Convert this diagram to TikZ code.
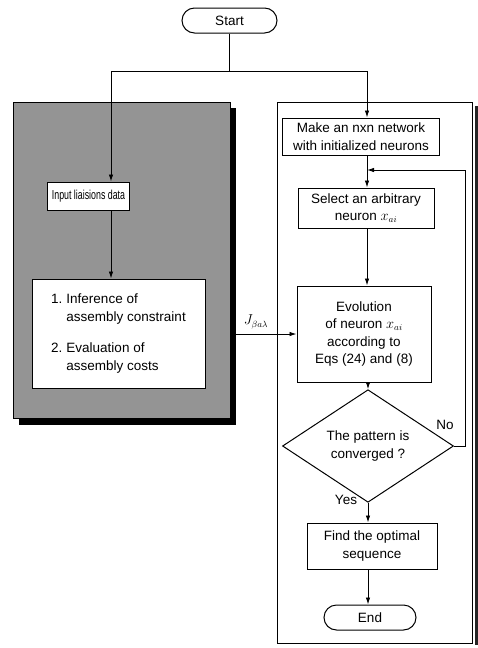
\documentclass[tikz,border=0pt]{standalone}
\usepackage{fontspec}
\setmainfont{Liberation Sans}
\usetikzlibrary{shapes.geometric,shapes.misc,arrows.meta}
\begin{document}
\begin{tikzpicture}[x=1pt,y=-1pt,
  every node/.style={font=\fontsize{13.5}{17.5}\selectfont},
  stepbox/.style={draw,line width=1pt,fill=white,inner sep=0pt,align=center},
  term/.style={rounded rectangle,draw,line width=1pt,fill=white,inner sep=0pt},
  decision/.style={diamond,draw,line width=1pt,fill=white,inner sep=0pt,align=center},
  panel/.style={draw,line width=1pt,inner sep=0pt},
  arr/.style={line width=0.9pt,-{Latex[length=7pt,width=4.5pt]}},
  ln/.style={line width=0.9pt}]
\useasboundingbox[fill=white] (0,0) rectangle (478,648);

% left panel: shaded block with a drop shadow
\fill[black] (19,108) rectangle (236,425);
\node[panel,fill=black!42,minimum width=217pt,minimum height=316pt] (lp) at (121.5,260) {};
% right panel with its dark edge
\fill[black!85] (474.5,106) rectangle (478,645);
\node[panel,fill=white,minimum width=195pt,minimum height=541pt] (rp) at (374.5,372.5) {};

% terminals and steps
\node[term,minimum width=95pt,minimum height=25pt] (start) at (229.5,20.5) {Start};
\node[stepbox,minimum width=82pt,minimum height=28pt] (input) at (88.5,196)
  {\fontsize{13}{15}\selectfont\scalebox{0.68}[1]{Input liaisions data}};
\node[stepbox,minimum width=173pt,minimum height=109pt] (infer) at (118.5,333.5)
  {\begin{tabular}{@{}l@{\hspace{4pt}}l@{}}1.&Inference of\\&assembly constraint\\[14pt]2.&Evaluation of\\&assembly costs\end{tabular}};

\node[stepbox,minimum width=157pt,minimum height=37pt] (make) at (361,136.5) {Make an nxn network\\with initialized neurons};
\node[stepbox,minimum width=136pt,minimum height=40pt] (select) at (366,208) {Select an arbitrary\\neuron $x_{ai}$};
\node[stepbox,minimum width=134pt,minimum height=96pt] (evol) at (364,334) {Evolution\\of neuron $x_{ai}$\\according to\\Eqs (24) and (8)};
\node[decision,minimum width=171pt,minimum height=85pt] (dec) at (368,446) {The pattern is\\converged ?};
\node[stepbox,minimum width=130pt,minimum height=46pt] (find) at (372,546) {Find the optimal\\sequence};
\node[term,minimum width=92pt,minimum height=25pt] (end) at (370,617.5) {End};

% branch points
\coordinate (jl) at (111,71);
\coordinate (jr) at (367,71);
\coordinate (jsrc) at (236,334);
\coordinate (fb) at (367,170);
\coordinate (loopc) at (465,170);

% connectors
\draw[ln] (start.south) -- (start.south |- jl);
\draw[ln] (jl) -- (jr);
\draw[arr] (jl) -- (jl |- input.north);
\draw[arr] (input.south -| jl) -- (infer.north -| jl);
\draw[arr] (jr) -- (jr |- make.north);
\draw[arr] (make.south -| jr) -- (select.north -| jr);
\draw[arr] (select.south -| jr) -- (evol.north -| jr);
\draw[arr] (evol.south -| dec.north) -- (dec.north);
\draw[arr] (dec.east) -| (loopc) -- (fb);
\draw[arr] (dec.south) -- (dec.south |- find.north);
\draw[arr] (find.south -| dec.south) -- (dec.south |- end.north);
\draw[arr] (jsrc) -- (evol.west);

% labels
\node at (256,322) {$J_{\beta a\lambda}$};
\node at (445,425) {No};
\node at (346,500) {Yes};
\end{tikzpicture}
\end{document}
